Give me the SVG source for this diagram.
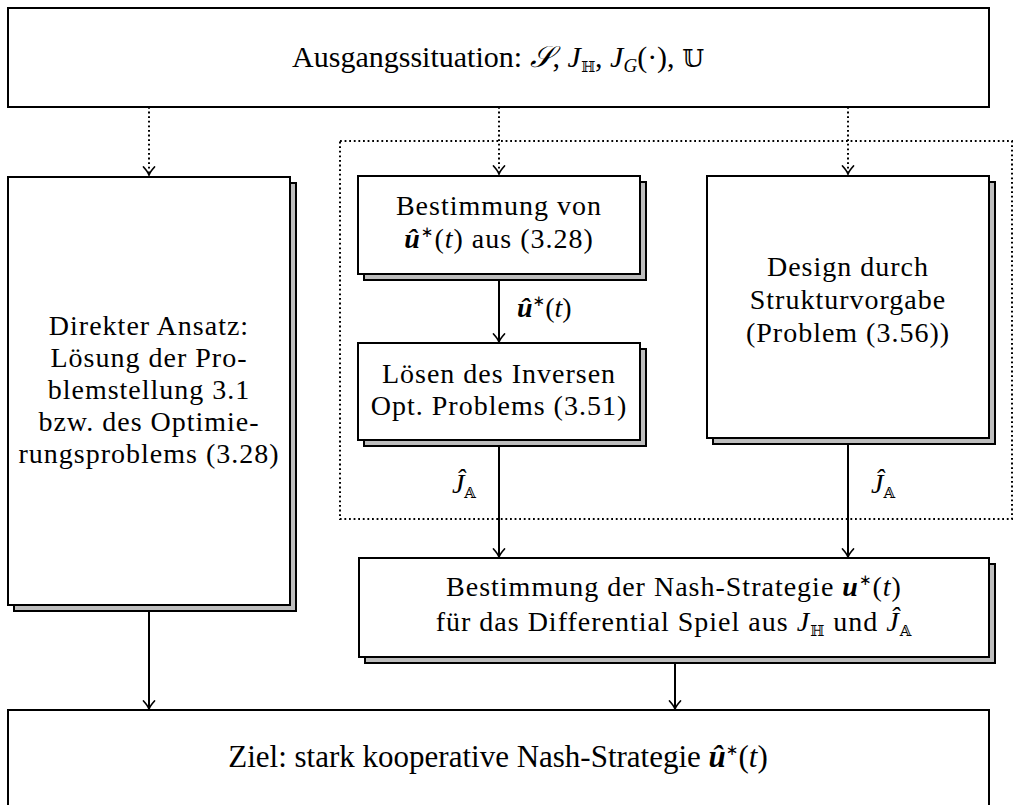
<svg xmlns="http://www.w3.org/2000/svg" width="1016" height="805" viewBox="0 0 1016 805">
<style>
.box{fill:#fff;stroke:#000;stroke-width:2}
.shadow{fill:#bdbdbd;stroke:#000;stroke-width:2}
.t{font-family:"Liberation Serif","Times New Roman",serif;font-size:28px;letter-spacing:1px;fill:#000;text-anchor:middle}
.big{font-family:"Liberation Serif","Times New Roman",serif;font-size:30px;fill:#000;text-anchor:middle}
.lbl{font-family:"Liberation Serif","Times New Roman",serif;font-size:28px;fill:#000}
.it{font-style:italic}
.bi{font-style:italic;font-weight:bold}
.bb{font-family:"DejaVu Serif","DejaVu Sans",serif;font-size:15px;fill:#000}
.bbl{font-family:"DejaVu Serif","DejaVu Sans",serif;font-size:25px;fill:#000}
.sup{font-family:"DejaVu Sans",sans-serif;font-size:15px}
.solid{stroke:#000;stroke-width:2;fill:none}
.dot{stroke:#000;stroke-width:2;fill:none;stroke-dasharray:1.8 2.8}
</style>
<defs>
<marker id="arr" markerUnits="userSpaceOnUse" markerWidth="20" markerHeight="20" viewBox="-10 -10 20 20" refX="0" refY="0" orient="auto" overflow="visible">
<path d="M-8,-5.5 Q-3,-1 0,0 Q-3,1 -8,5.5" fill="none" stroke="#000" stroke-width="1.7" stroke-linecap="round"/>
</marker>
</defs>

<g id="frame">
<rect x="340" y="141" width="672" height="378" class="dot"/>
</g>

<g id="connectors">
<line x1="149" y1="107" x2="149" y2="175" class="dot" marker-end="url(#arr)"/>
<line x1="499" y1="107" x2="499" y2="174" class="dot" marker-end="url(#arr)"/>
<line x1="848" y1="107" x2="848" y2="174" class="dot" marker-end="url(#arr)"/>
<line x1="499" y1="274" x2="499" y2="342" class="solid" marker-end="url(#arr)"/>
<line x1="499" y1="440" x2="499" y2="557" class="solid" marker-end="url(#arr)"/>
<line x1="848" y1="438" x2="848" y2="557" class="solid" marker-end="url(#arr)"/>
<line x1="149" y1="605" x2="149" y2="709" class="solid" marker-end="url(#arr)"/>
<line x1="675" y1="657" x2="675" y2="709" class="solid" marker-end="url(#arr)"/>
<text x="517" y="317" class="lbl"><tspan class="bi">û</tspan><tspan class="sup" dy="-11">∗</tspan><tspan dy="11">(</tspan><tspan class="it">t</tspan>)</text>
<text x="476" y="493" class="lbl" text-anchor="end"><tspan class="it">Ĵ</tspan><tspan class="bb" dy="5">𝔸</tspan></text>
<text x="871" y="493" class="lbl"><tspan class="it">Ĵ</tspan><tspan class="bb" dy="5">𝔸</tspan></text>
</g>

<g id="node-start">
<rect x="8" y="8" width="981" height="99" class="box"/>
<text x="498" y="67" class="big">Ausgangssituation: <tspan class="it">𝒮</tspan>, <tspan class="it">J</tspan><tspan class="bb" dy="5">ℍ</tspan><tspan dy="-5">, </tspan><tspan class="it">J</tspan><tspan class="it" font-size="19" dy="5">G</tspan><tspan dy="-5">(·), </tspan><tspan class="bbl">𝕌</tspan></text>
</g>

<g id="node-direct">
<rect x="14" y="183" width="282" height="428" class="shadow"/>
<rect x="8" y="177" width="282" height="428" class="box"/>
<text class="t"><tspan x="149" y="335">Direkter Ansatz:</tspan><tspan x="149" y="367">Lösung der Pro-</tspan><tspan x="149" y="399">blemstellung 3.1</tspan><tspan x="149" y="431">bzw. des Optimie-</tspan><tspan x="149" y="463">rungsproblems (3.28)</tspan></text>
</g>

<g id="node-bestimmung">
<rect x="364" y="182" width="282" height="98" class="shadow"/>
<rect x="358" y="176" width="282" height="98" class="box"/>
<text class="t"><tspan x="499" y="215">Bestimmung von</tspan><tspan x="499" y="248"><tspan class="bi">û</tspan><tspan class="sup" dy="-11">∗</tspan><tspan dy="11">(</tspan><tspan class="it">t</tspan>) aus (3.28)</tspan></text>
</g>

<g id="node-inverse">
<rect x="364" y="349" width="282" height="97" class="shadow"/>
<rect x="358" y="343" width="282" height="97" class="box"/>
<text class="t"><tspan x="499" y="383">Lösen des Inversen</tspan><tspan x="499" y="415">Opt. Problems (3.51)</tspan></text>
</g>

<g id="node-design">
<rect x="713" y="182" width="282" height="262" class="shadow"/>
<rect x="707" y="176" width="282" height="262" class="box"/>
<text class="t"><tspan x="848" y="276">Design durch</tspan><tspan x="848" y="309">Strukturvorgabe</tspan><tspan x="848" y="342">(Problem (3.56))</tspan></text>
</g>

<g id="node-nash">
<rect x="365" y="564" width="630" height="99" class="shadow"/>
<rect x="359" y="558" width="630" height="99" class="box"/>
<text class="t"><tspan x="674" y="596">Bestimmung der Nash-Strategie <tspan class="bi">u</tspan><tspan class="sup" dy="-11">∗</tspan><tspan dy="11">(</tspan><tspan class="it">t</tspan>)</tspan><tspan x="674" y="631">für das Differential Spiel aus <tspan class="it">J</tspan><tspan class="bb" dy="5">ℍ</tspan><tspan dy="-5"> und </tspan><tspan class="it">Ĵ</tspan><tspan class="bb" dy="5">𝔸</tspan></tspan></text>
</g>

<g id="node-goal">
<rect x="8" y="710" width="981" height="99" class="box"/>
<text x="498" y="767" class="big" style="font-size:31px">Ziel: stark kooperative Nash-Strategie <tspan class="bi">û</tspan><tspan class="sup" dy="-12">∗</tspan><tspan dy="12">(</tspan><tspan class="it">t</tspan>)</text>
</g>
</svg>
